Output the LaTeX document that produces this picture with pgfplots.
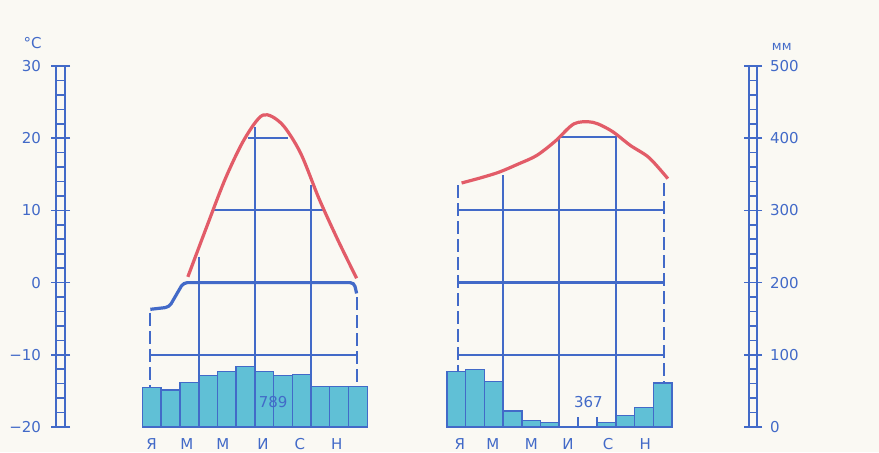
\documentclass[border=0pt]{standalone}
\usepackage{pgfplots}
\pgfplotsset{compat=1.18}
\usepackage{fontspec}
\setmainfont{DejaVu Sans}

\definecolor{paper}{RGB}{250,249,243}
\definecolor{ink}{RGB}{66,106,200}
\definecolor{rain}{RGB}{96,192,214}
\definecolor{warm}{RGB}{226,92,104}

\pgfplotsset{
  ladder/.style={
    scale only axis, anchor=south west, height=180.5pt,
    xmin=0, xmax=1, xtick=\empty, clip=false,
    minor y tick num=4,
    ymajorgrids, yminorgrids,
    grid style={ink, line width=0.8pt, solid},
    minor grid style={ink, line width=0.8pt, solid},
    axis line style={ink, line width=0.8pt},
    tick align=outside,
    major tick length=2.5pt, minor tick length=0pt,
    major tick style={ink, line width=0.8pt},
    tick label style={font=\fontsize{7.5}{9}\selectfont, text=ink},
  },
  panel/.style={
    scale only axis, anchor=south west, at={(71.15pt,12.5pt)},
    width=264.84pt, height=180.5pt,
    xmin=0.5, xmax=28.75, clip=false,
    axis line style={draw=none}, ytick=\empty,
    major tick length=0pt,
  },
  gl/.style={ink, line width=1pt, no marks},
  dl/.style={ink, line width=1pt, no marks, dash pattern=on 6.5pt off 2.5pt},
}

\begin{document}
\begin{tikzpicture}
\path[use as bounding box, fill=paper] (0,0) rectangle (439.5pt,226pt);

% temperature scale
\begin{axis}[ladder, at={(28pt,12.5pt)}, width=4.5pt,
    ymin=-20, ymax=30, ytick={-20,-10,...,30},
    yticklabels={−20,−10,0,10,20,30},
    yticklabel pos=left, ytick pos=both,
    yticklabel style={xshift=-1.5pt}]
  \node[font=\fontsize{7.5}{9}\selectfont, text=ink] at (rel axis cs:-2.61,1.065) {°C};
\end{axis}

% precipitation scale
\begin{axis}[ladder, at={(374.5pt,12.5pt)}, width=4pt,
    ymin=0, ymax=500, ytick={0,100,...,500},
    yticklabels={0,100,200,300,400,500},
    yticklabel pos=right, ytick pos=both,
    yticklabel style={xshift=0.5pt}]
  \node[font=\fontsize{6.5}{8}\selectfont, text=ink] at (rel axis cs:4.1,1.054) {мм};
\end{axis}

% precipitation, mm
\begin{axis}[panel, ymin=0, ymax=500,
    xtick={1,2.88,4.8,6.94,8.91,10.87,17.43,19.19,21.25,23.2,25.34,27.32},
    xticklabels={Я,М,М,И,С,Н,Я,М,М,И,С,Н},
    xticklabel style={font=\fontsize{7.5}{9}\selectfont, text=ink, yshift=-2pt}]
  \addplot[ybar, bar width=1, fill=rain, draw=ink, line width=0.7pt] coordinates {
    (1,55) (2,51) (3,62) (4,71) (5,77) (6,84)
    (7,77) (8,71) (9,73) (10,56) (11,56) (12,56)
  };
  \addplot[ybar, bar width=1, fill=rain, draw=ink, line width=0.7pt] coordinates {
    (17.25,77) (18.25,80) (19.25,63) (20.25,22) (21.25,9) (22.25,6)
    (23.25,0) (24.25,0) (25.25,6) (26.25,16) (27.25,27) (28.25,61)
  };
  \addplot[gl] coordinates {(23.75,0) (23.75,14)};
  \addplot[gl] coordinates {(24.75,0) (24.75,14)};
  \node[font=\fontsize{7.5}{9}\selectfont, text=ink] at (axis cs:7.48,35) {789};
  \node[font=\fontsize{7.5}{9}\selectfont, text=ink] at (axis cs:24.29,35) {367};
\end{axis}

% temperature, degrees C
\begin{axis}[panel, ymin=-20, ymax=30, xtick=\empty]
  % left station
  \addplot[dl] coordinates {(0.93,-4.2) (0.93,-14.5)};
  \addplot[dl] coordinates {(11.93,-2) (11.93,-14.4)};
  \addplot[gl] coordinates {(0.93,-10) (11.93,-10)};
  \addplot[gl] coordinates {(0.93,-10.5) (0.93,-9.5)};
  \addplot[gl] coordinates {(11.93,-10.5) (11.93,-9.5)};
  \addplot[gl] coordinates {(3.5,3.6) (3.5,-20)};
  \addplot[gl] coordinates {(6.5,21.5) (6.5,-20)};
  \addplot[gl] coordinates {(9.5,13.5) (9.5,-20)};
  \addplot[gl] coordinates {(4.22,10) (10.15,10)};
  \addplot[gl] coordinates {(6.15,20) (8.29,20)};
  \addplot[ink, line width=1.6pt, no marks, rounded corners=2pt] coordinates {
    (0.93,-3.7) (1.93,-3.4) (2.69,0) (11.8,0) (11.93,-1.5)
  };
  \addplot[warm, line width=1.6pt, no marks, smooth] coordinates {
    (2.93,0.8) (3.93,7.7) (4.93,14.4) (5.93,19.8) (6.93,23.2)
    (7.93,22.0) (8.93,18.0) (9.93,11.6) (10.93,5.9) (11.93,0.6)
  };
  % right station
  \addplot[dl] coordinates {(17.32,13.5) (17.32,-12.3)};
  \addplot[dl] coordinates {(28.32,13.75) (28.32,-13.9)};
  \addplot[gl] coordinates {(17.32,10) (28.32,10)};
  \addplot[gl] coordinates {(17.32,-10) (28.32,-10)};
  \addplot[ink, line width=1.2pt, no marks] coordinates {(17.32,0) (28.32,0)};
  \addplot[gl] coordinates {(17.32,10.5) (17.32,9.5)};
  \addplot[gl] coordinates {(28.32,10.5) (28.32,9.5)};
  \addplot[gl] coordinates {(17.32,-10.5) (17.32,-9.5)};
  \addplot[gl] coordinates {(28.32,-10.5) (28.32,-9.5)};
  \addplot[gl] coordinates {(19.75,14.9) (19.75,-20)};
  \addplot[gl] coordinates {(22.75,-20) (22.75,20.15) (25.75,20.15) (25.75,-20)};
  \addplot[warm, line width=1.6pt, no marks, smooth] coordinates {
    (17.53,13.8) (18.53,14.5) (19.53,15.3) (20.53,16.4) (21.53,17.6) (22.53,19.6)
    (23.53,22.0) (24.53,22.2) (25.53,21.0) (26.53,19.0) (27.53,17.3) (28.53,14.4)
  };
\end{axis}
\end{tikzpicture}
\end{document}
